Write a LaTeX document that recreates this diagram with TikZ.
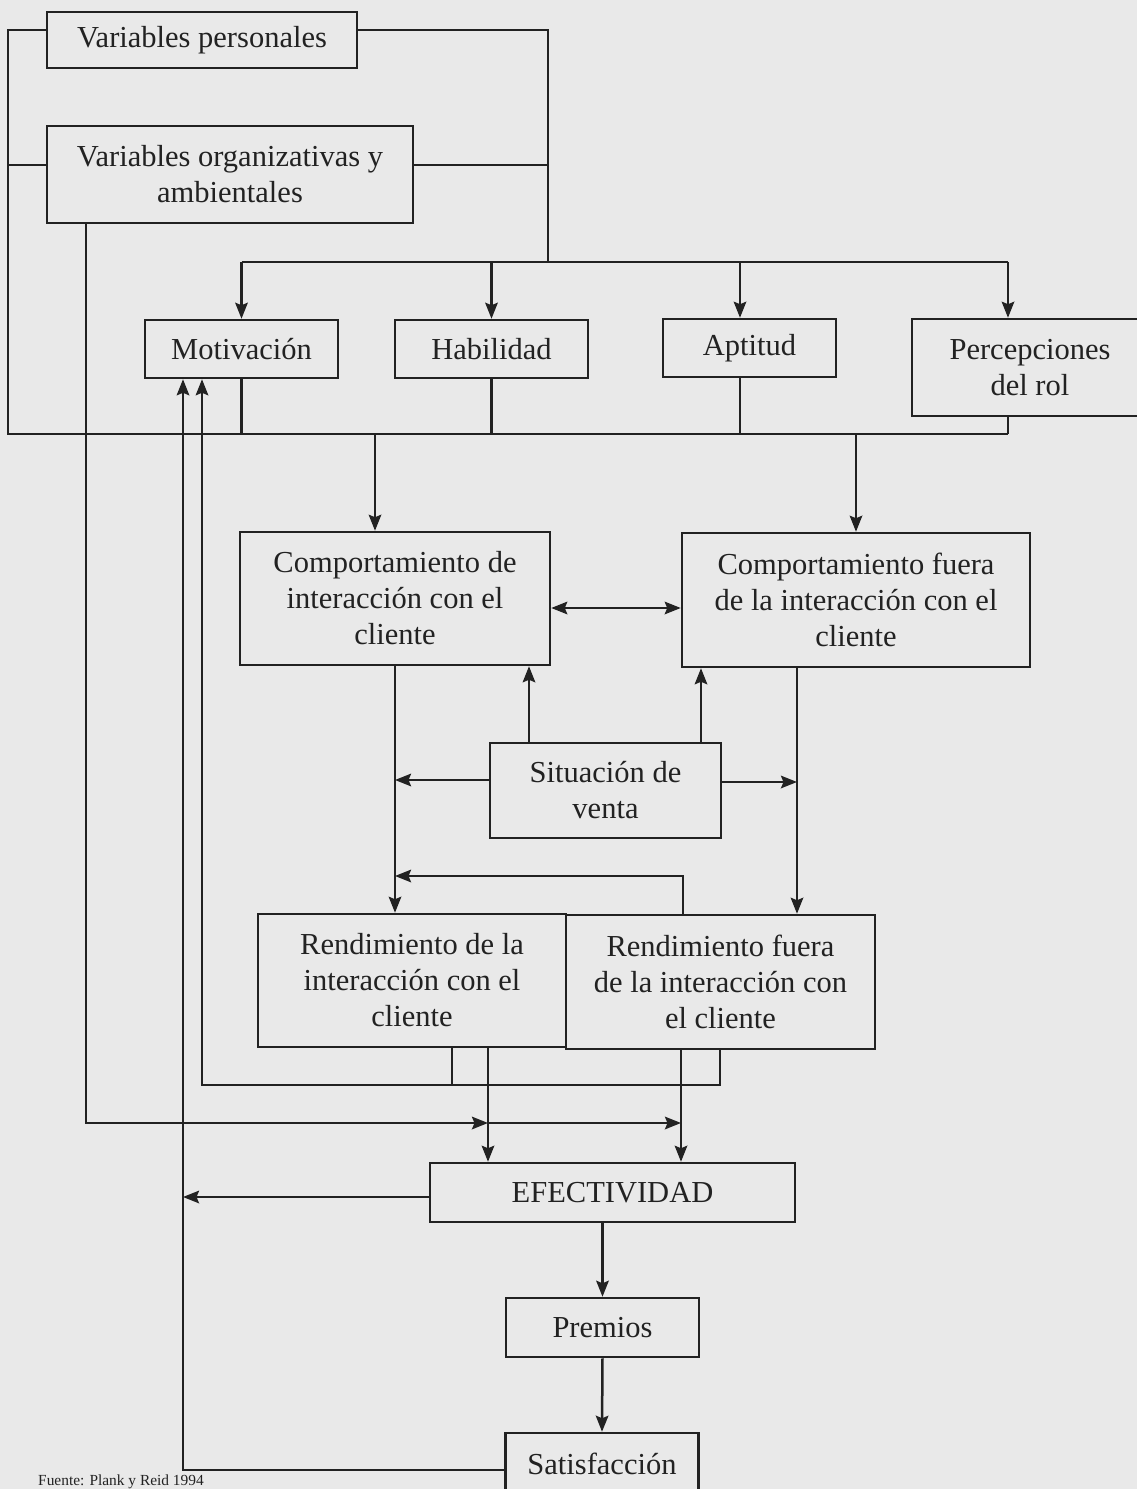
\documentclass[tikz,border=0pt]{standalone}
\usepackage{fontspec}
\setmainfont{Liberation Serif}
\usetikzlibrary{arrows.meta}
\definecolor{paper}{HTML}{E9E9E9}
\definecolor{ink}{HTML}{222222}
\tikzset{
  box/.style={draw=ink, line width=2.5pt, inner sep=0pt, align=center,
    text=ink, font=\fontsize{30.5}{36}\selectfont},
  wire/.style={draw=ink, line width=2.5pt},
  tip/.tip={Stealth[length=16pt,width=12.5pt,inset=2.5pt]},
  arr/.style={wire, -tip},
  arrboth/.style={wire, tip-tip}
}
\begin{document}
\begin{tikzpicture}[x=1pt,y=-1pt]
\useasboundingbox (0,0) rectangle (1137,1489);
\clip (0,0) rectangle (1137,1489);
\fill[paper] (0,0) rectangle (1137,1489);

% boxes
\node[box, minimum width=310, minimum height=56] (vp) at (202,40) {Variables personales};
\node[box, minimum width=366, minimum height=97] (voa) at (230,174.5) {Variables organizativas y\\ambientales};
\node[box, minimum width=193, minimum height=58] (mot) at (241.5,349) {Motivación};
\node[box, minimum width=193, minimum height=58] (hab) at (491.5,349) {Habilidad};
\node[box, minimum width=173, minimum height=58] (apt) at (749.5,348) {Aptitud};
\node[box, minimum width=236, minimum height=97] (per) at (1030,367.5) {Percepciones\\del rol};
\node[box, minimum width=310, minimum height=133] (ci) at (395,598.5) {Comportamiento de\\interacción con el\\cliente};
\node[box, minimum width=348, minimum height=134] (cf) at (856,600) {Comportamiento fuera\\de la interacción con el\\cliente};
\node[box, minimum width=231, minimum height=95] (sv) at (605.5,790.5) {Situación de\\venta};
\node[box, minimum width=308, minimum height=133] (ri) at (412,980.5) {Rendimiento de la\\interacción con el\\cliente};
\node[box, minimum width=309, minimum height=134] (rf) at (720.5,982) {Rendimiento fuera\\de la interacción con\\el cliente};
\node[box, minimum width=365, minimum height=59] (ef) at (612.5,1192.5) {EFECTIVIDAD};
\node[box, minimum width=193, minimum height=59] (pr) at (602.5,1327.5) {Premios};
\node[box, minimum width=193, minimum height=62] (sa) at (602,1464) {Satisfacción};
\node[anchor=base west, inner sep=0pt, text=ink, font=\fontsize{15.4}{18}\selectfont] (src) at (38,1485) {Fuente: Plank y Reid 1994};

% routing points
\coordinate (railL) at (8,30);
\coordinate (railR) at (548,30);
\coordinate (voaY) at (0,165);
\coordinate (busTop) at (0,262);
\coordinate (busLow) at (0,434);
\coordinate (aptX) at (740,0);
\coordinate (perX) at (1008,0);
\coordinate (ciX) at (375,0);
\coordinate (linkY) at (0,608);
\coordinate (svL) at (529,0);
\coordinate (svR) at (701,0);
\coordinate (sideL) at (0,780);
\coordinate (sideR) at (0,782);
\coordinate (cfoX) at (797,0);
\coordinate (backX) at (683,0);
\coordinate (backY) at (0,876);
\coordinate (ri1) at (452,0);
\coordinate (ri2) at (488,0);
\coordinate (rf1) at (681,0);
\coordinate (rf2) at (720,0);
\coordinate (fbY) at (0,1085);
\coordinate (fbX) at (202,0);
\coordinate (orgX) at (86,0);
\coordinate (orgY) at (0,1123);
\coordinate (efY) at (0,1197);
\coordinate (satX) at (183,0);
\coordinate (satY) at (0,1470);

% variables feeding the four antecedents and the lower bus
\draw[wire] (vp.west |- railL) -- (railL) -- (railL |- busLow) -- (perX |- busLow);
\draw[wire] (voa.west |- voaY) -- (railL |- voaY);
\draw[wire] (vp.east |- railR) -- (railR) -- (railR |- busTop);
\draw[wire] (voa.east |- voaY) -- (railR |- voaY);
\draw[wire] (mot.north |- busTop) -- (perX |- busTop);
\draw[arr] (mot.north |- busTop) -- (mot.north);
\draw[arr] (hab.north |- busTop) -- (hab.north);
\draw[arr] (aptX |- busTop) -- (aptX |- apt.north);
\draw[arr] (perX |- busTop) -- (perX |- per.north);

% antecedents into the lower bus
\draw[wire] (mot.south) -- (mot.south |- busLow);
\draw[wire] (hab.south) -- (hab.south |- busLow);
\draw[wire] (aptX |- apt.south) -- (aptX |- busLow);
\draw[wire] (perX |- per.south) -- (perX |- busLow);
\draw[arr] (ciX |- busLow) -- (ciX |- ci.north);
\draw[arr] (cf.north |- busLow) -- (cf.north);

% behaviour and sales situation
\draw[arrboth] (ci.east |- linkY) -- (cf.west |- linkY);
\draw[arr] (svL |- sv.north) -- (svL |- ci.south);
\draw[arr] (svR |- sv.north) -- (svR |- cf.south);
\draw[arr] (ci.south) -- (ci.south |- ri.north);
\draw[arr] (sv.west |- sideL) -- (ci.south |- sideL);
\draw[arr] (cfoX |- cf.south) -- (cfoX |- rf.north);
\draw[arr] (sv.east |- sideR) -- (cfoX |- sideR);
\draw[arr] (backX |- rf.north) -- (backX |- backY) -- (ci.south |- backY);

% performance, feedback and effectiveness
\draw[wire] (ri1 |- ri.south) -- (ri1 |- fbY);
\draw[arr] (rf2 |- rf.south) -- (rf2 |- fbY) -- (fbX |- fbY) -- (fbX |- mot.south);
\draw[arr] (ri2 |- ri.south) -- (ri2 |- ef.north);
\draw[arr] (rf1 |- rf.south) -- (rf1 |- ef.north);
\draw[arr] (orgX |- voa.south) -- (orgX |- orgY) -- (ri2 |- orgY);
\draw[arr] (ri2 |- orgY) -- (rf1 |- orgY);
\draw[arr] (ef.west |- efY) -- (satX |- efY);
\draw[arr] (sa.west |- satY) -- (satX |- satY) -- (satX |- mot.south);
\draw[arr] (pr.north |- ef.south) -- (pr.north);
\draw[arr] (pr.south) -- (sa.north);
\end{tikzpicture}
\end{document}
